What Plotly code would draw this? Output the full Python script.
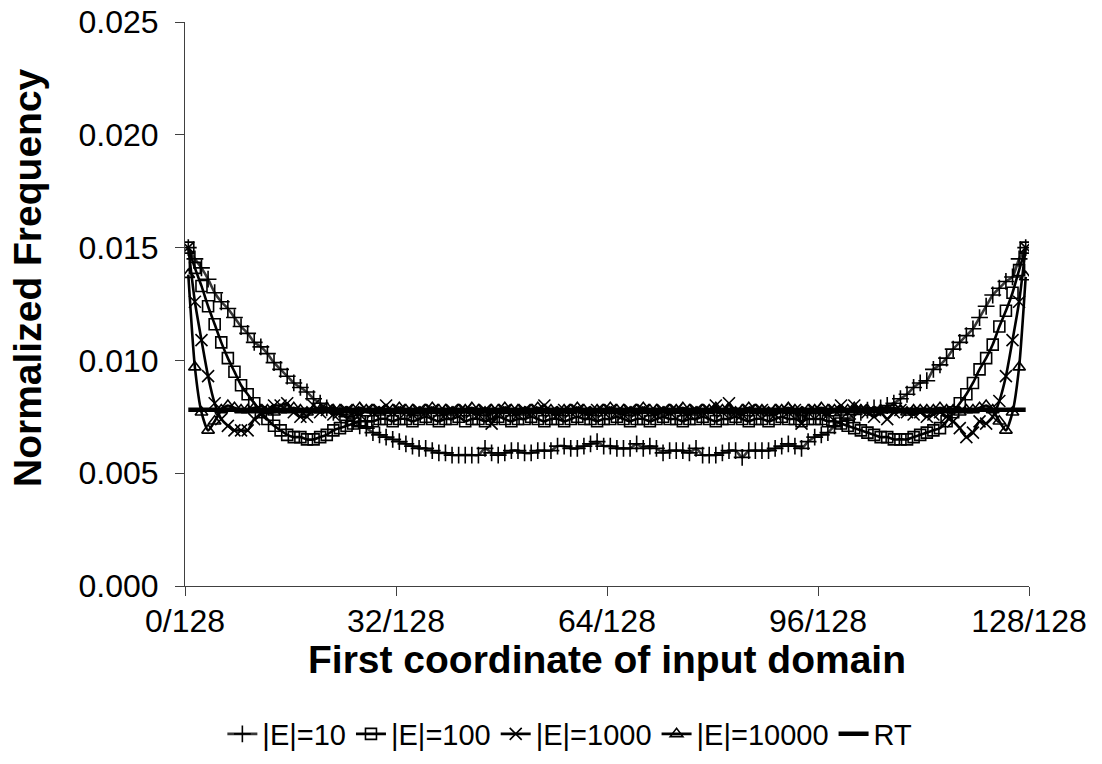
import plotly.graph_objects as go

# bins of the first coordinate (0..127), plotted at bin centres
bins = list(range(128))
tick_vals = [0, 32, 64, 96, 128]
tick_text = ["0/128", "32/128", "64/128", "96/128", "128/128"]

e10 = [
    0.0150, 0.0145, 0.0141, 0.0136, 0.0130, 0.0126, 0.0123, 0.0119, 0.0115, 0.0112, 0.0108, 0.0106, 0.0103, 0.0099, 0.0096, 0.0093,
    0.0090, 0.0088, 0.0086, 0.0083, 0.0081, 0.0079, 0.0077, 0.0076, 0.0075, 0.0073, 0.0071, 0.0070, 0.0068, 0.0067, 0.0066, 0.0065,
    0.0064, 0.0063, 0.0062, 0.0061, 0.0061, 0.0060, 0.0059, 0.0059, 0.0058, 0.0058, 0.0058, 0.0058, 0.0058, 0.0061, 0.0059, 0.0058,
    0.0059, 0.0060, 0.0060, 0.0059, 0.0059, 0.0060, 0.0060, 0.0060, 0.0062, 0.0062, 0.0061, 0.0061, 0.0062, 0.0063, 0.0064, 0.0062,
    0.0062, 0.0061, 0.0061, 0.0061, 0.0063, 0.0061, 0.0062, 0.0061, 0.0059, 0.0060, 0.0060, 0.0060, 0.0059, 0.0061, 0.0058, 0.0058,
    0.0058, 0.0059, 0.0060, 0.0060, 0.0057, 0.0060, 0.0060, 0.0060, 0.0060, 0.0061, 0.0062, 0.0063, 0.0062, 0.0061, 0.0064, 0.0066,
    0.0067, 0.0068, 0.0071, 0.0073, 0.0074, 0.0076, 0.0077, 0.0078, 0.0079, 0.0079, 0.0080, 0.0081, 0.0083, 0.0085, 0.0088, 0.0090,
    0.0091, 0.0096, 0.0098, 0.0101, 0.0105, 0.0108, 0.0111, 0.0114, 0.0119, 0.0124, 0.0129, 0.0132, 0.0135, 0.0137, 0.0145, 0.0150,
]

e100 = [
    0.0150, 0.0141, 0.0133, 0.0124, 0.0116, 0.0108, 0.0101, 0.0095, 0.0089, 0.0085, 0.0081, 0.0077, 0.0074, 0.0071, 0.0069, 0.0067,
    0.0066, 0.0066, 0.0065, 0.0065, 0.0066, 0.0067, 0.0069, 0.0070, 0.0071, 0.0072, 0.0073, 0.0073, 0.0073, 0.0074, 0.0074, 0.0073,
    0.0074, 0.0074, 0.0073, 0.0074, 0.0075, 0.0074, 0.0073, 0.0074, 0.0074, 0.0075, 0.0073, 0.0074, 0.0074, 0.0073, 0.0074, 0.0075,
    0.0074, 0.0073, 0.0074, 0.0074, 0.0075, 0.0074, 0.0073, 0.0074, 0.0074, 0.0073, 0.0074, 0.0075, 0.0074, 0.0074, 0.0073, 0.0074,
    0.0074, 0.0075, 0.0074, 0.0073, 0.0074, 0.0074, 0.0073, 0.0074, 0.0075, 0.0074, 0.0074, 0.0073, 0.0074, 0.0074, 0.0075, 0.0074,
    0.0073, 0.0074, 0.0074, 0.0075, 0.0074, 0.0073, 0.0074, 0.0074, 0.0073, 0.0074, 0.0075, 0.0074, 0.0074, 0.0073, 0.0074, 0.0074,
    0.0074, 0.0073, 0.0073, 0.0072, 0.0071, 0.0070, 0.0069, 0.0068, 0.0067, 0.0066, 0.0066, 0.0065, 0.0065, 0.0065, 0.0066, 0.0067,
    0.0068, 0.0069, 0.0070, 0.0073, 0.0077, 0.0081, 0.0085, 0.0090, 0.0096, 0.0101, 0.0107, 0.0115, 0.0122, 0.0130, 0.0140, 0.0150,
]

e1000 = [
    0.0150, 0.0126, 0.0109, 0.0093, 0.0081, 0.0074, 0.0071, 0.0069, 0.0069, 0.0069, 0.0074, 0.0076, 0.0078, 0.0080, 0.0080, 0.0081,
    0.0077, 0.0075, 0.0075, 0.0080, 0.0077, 0.0078, 0.0076, 0.0077, 0.0078, 0.0077, 0.0076, 0.0078, 0.0077, 0.0078, 0.0080, 0.0077,
    0.0078, 0.0077, 0.0076, 0.0078, 0.0077, 0.0078, 0.0077, 0.0076, 0.0078, 0.0077, 0.0078, 0.0077, 0.0076, 0.0078, 0.0072, 0.0077,
    0.0078, 0.0077, 0.0076, 0.0078, 0.0077, 0.0078, 0.0080, 0.0077, 0.0076, 0.0078, 0.0077, 0.0078, 0.0077, 0.0076, 0.0078, 0.0077,
    0.0078, 0.0077, 0.0076, 0.0078, 0.0077, 0.0078, 0.0077, 0.0076, 0.0078, 0.0077, 0.0078, 0.0077, 0.0076, 0.0078, 0.0077, 0.0078,
    0.0080, 0.0077, 0.0081, 0.0077, 0.0076, 0.0078, 0.0077, 0.0078, 0.0077, 0.0076, 0.0078, 0.0077, 0.0078, 0.0072, 0.0077, 0.0078,
    0.0077, 0.0076, 0.0078, 0.0080, 0.0077, 0.0080, 0.0078, 0.0077, 0.0075, 0.0077, 0.0074, 0.0077, 0.0078, 0.0077, 0.0076, 0.0077,
    0.0075, 0.0076, 0.0077, 0.0075, 0.0073, 0.0070, 0.0066, 0.0068, 0.0073, 0.0072, 0.0075, 0.0082, 0.0093, 0.0109, 0.0126, 0.0150,
]

e10000 = [
    0.0138, 0.0097, 0.0077, 0.0069, 0.0073, 0.0078, 0.0080, 0.0079, 0.0078, 0.0078, 0.0079, 0.0078, 0.0078, 0.0077, 0.0078, 0.0078,
    0.0079, 0.0078, 0.0077, 0.0078, 0.0078, 0.0079, 0.0078, 0.0078, 0.0077, 0.0078, 0.0079, 0.0078, 0.0078, 0.0077, 0.0078, 0.0078,
    0.0079, 0.0078, 0.0078, 0.0077, 0.0078, 0.0079, 0.0078, 0.0078, 0.0077, 0.0078, 0.0078, 0.0079, 0.0078, 0.0077, 0.0078, 0.0078,
    0.0079, 0.0078, 0.0078, 0.0077, 0.0078, 0.0079, 0.0078, 0.0078, 0.0077, 0.0078, 0.0078, 0.0079, 0.0078, 0.0077, 0.0078, 0.0078,
    0.0079, 0.0078, 0.0078, 0.0077, 0.0078, 0.0079, 0.0078, 0.0078, 0.0077, 0.0078, 0.0078, 0.0079, 0.0078, 0.0077, 0.0078, 0.0078,
    0.0079, 0.0078, 0.0078, 0.0077, 0.0078, 0.0079, 0.0078, 0.0078, 0.0077, 0.0078, 0.0078, 0.0079, 0.0078, 0.0077, 0.0078, 0.0078,
    0.0079, 0.0078, 0.0078, 0.0077, 0.0078, 0.0079, 0.0078, 0.0078, 0.0077, 0.0078, 0.0078, 0.0079, 0.0078, 0.0077, 0.0078, 0.0078,
    0.0078, 0.0078, 0.0079, 0.0078, 0.0078, 0.0077, 0.0078, 0.0078, 0.0079, 0.0080, 0.0078, 0.0073, 0.0069, 0.0077, 0.0097, 0.0137,
]

rt = [
    0.0078125, 0.0078125, 0.0078125, 0.0078125, 0.0078125, 0.0078125, 0.0078125, 0.0078125,
    0.0078125, 0.0078125, 0.0078125, 0.0078125, 0.0078125, 0.0078125, 0.0078125, 0.0078125,
    0.0078125, 0.0078125, 0.0078125, 0.0078125, 0.0078125, 0.0078125, 0.0078125, 0.0078125,
    0.0078125, 0.0078125, 0.0078125, 0.0078125, 0.0078125, 0.0078125, 0.0078125, 0.0078125,
    0.0078125, 0.0078125, 0.0078125, 0.0078125, 0.0078125, 0.0078125, 0.0078125, 0.0078125,
    0.0078125, 0.0078125, 0.0078125, 0.0078125, 0.0078125, 0.0078125, 0.0078125, 0.0078125,
    0.0078125, 0.0078125, 0.0078125, 0.0078125, 0.0078125, 0.0078125, 0.0078125, 0.0078125,
    0.0078125, 0.0078125, 0.0078125, 0.0078125, 0.0078125, 0.0078125, 0.0078125, 0.0078125,
    0.0078125, 0.0078125, 0.0078125, 0.0078125, 0.0078125, 0.0078125, 0.0078125, 0.0078125,
    0.0078125, 0.0078125, 0.0078125, 0.0078125, 0.0078125, 0.0078125, 0.0078125, 0.0078125,
    0.0078125, 0.0078125, 0.0078125, 0.0078125, 0.0078125, 0.0078125, 0.0078125, 0.0078125,
    0.0078125, 0.0078125, 0.0078125, 0.0078125, 0.0078125, 0.0078125, 0.0078125, 0.0078125,
    0.0078125, 0.0078125, 0.0078125, 0.0078125, 0.0078125, 0.0078125, 0.0078125, 0.0078125,
    0.0078125, 0.0078125, 0.0078125, 0.0078125, 0.0078125, 0.0078125, 0.0078125, 0.0078125,
    0.0078125, 0.0078125, 0.0078125, 0.0078125, 0.0078125, 0.0078125, 0.0078125, 0.0078125,
    0.0078125, 0.0078125, 0.0078125, 0.0078125, 0.0078125, 0.0078125, 0.0078125, 0.0078125,
]

x = [b + 0.5 for b in bins]

FONT = "Liberation Sans, Arial, sans-serif"
AX = "#404040"

series = [
    ("|E|=10", e10, "cross-thin", 12, "#383838"),
    ("|E|=100", e100, "square-open", 11, "black"),
    ("|E|=1000", e1000, "x-thin", 12, "black"),
    ("|E|=10000", e10000, "triangle-up-open", 11, "black"),
]

fig = go.Figure()
for name, ys, sym, size, lc in series:
    fig.add_trace(go.Scatter(
        x=x, y=ys, name=name, mode="lines+markers",
        line=dict(color=lc, width=2.6, shape="spline", smoothing=0.6),
        marker=dict(symbol=sym, size=size, color="black",
                    line=dict(color="black", width=1.6)),
    ))
fig.add_trace(go.Scatter(
    x=x, y=rt, name="RT", mode="lines",
    line=dict(color="black", width=4.5),
))

fig.update_layout(
    width=1102, height=764,
    margin=dict(l=185, r=73, t=22, b=178),
    paper_bgcolor="white", plot_bgcolor="white",
    font=dict(family=FONT, size=32, color="black"),
    showlegend=True,
    legend=dict(orientation="h", x=0.456, xanchor="center", xref="paper",
                y=1 - 734 / 764, yanchor="middle", yref="container",
                font=dict(family=FONT, size=29, color="black"),
                itemwidth=30, tracegroupgap=0,
                bgcolor="rgba(0,0,0,0)"),
    annotations=[
        dict(text="<b>First coordinate of input domain</b>", showarrow=False,
             xref="paper", yref="paper", x=0.5, y=(586 - 659) / 564,
             xanchor="center", yanchor="middle",
             font=dict(family=FONT, size=39, color="black")),
        dict(text="<b>Normalized Frequency</b>", showarrow=False, textangle=-90,
             xref="paper", yref="paper", x=(27 - 185) / 844, y=(586 - 278) / 564,
             xanchor="center", yanchor="middle",
             font=dict(family=FONT, size=39, color="black")),
    ],
)
fig.update_xaxes(
    range=[0, 128], tickvals=tick_vals, ticktext=tick_text,
    ticks="outside", ticklen=9, tickwidth=1, tickcolor=AX,
    showline=True, linecolor=AX, linewidth=1,
    showgrid=False, zeroline=False, automargin=False,
    ticklabelstandoff=-2,
    tickfont=dict(family=FONT, size=32, color="black"),
)
fig.update_yaxes(
    range=[0, 0.025], dtick=0.005, tick0=0, tickformat=".3f",
    ticks="outside", ticklen=9, tickwidth=1, tickcolor=AX,
    showline=True, linecolor=AX, linewidth=1,
    showgrid=False, zeroline=False, automargin=False,
    ticklabelstandoff=10,
    tickfont=dict(family=FONT, size=32, color="black"),
)

fig.write_html("out.html")
